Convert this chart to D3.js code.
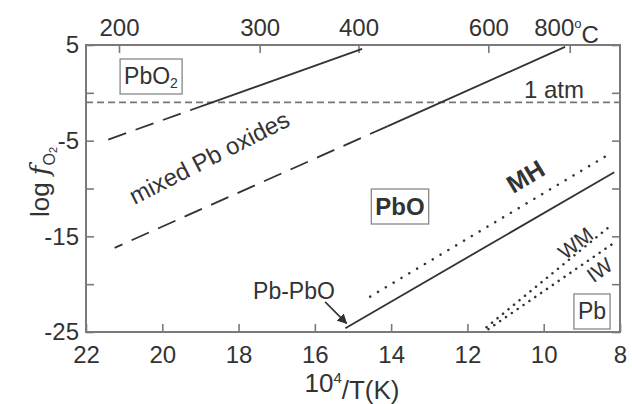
<!DOCTYPE html>
<html>
<head>
<meta charset="utf-8">
<script src="https://cdn.jsdelivr.net/npm/d3@7/dist/d3.min.js"></script>
<style>
  html, body { margin: 0; padding: 0; background: #fff; }
  svg { display: block; font-family: "Liberation Sans", Arial, sans-serif; }
</style>
</head>
<body>
<svg id="chart" width="632" height="404"></svg>
<script>
// Axis ranges and ticks
const xDomain = [22, 8];            // 10^4/T(K)
const yDomain = [-25, 5];           // log fO2
const xTicks = [22, 20, 18, 16, 14, 12, 10, 8];
const yTicks = [5, 0, -5, -10, -15, -20, -25];
const yTickLabels = [5, -5, -15, -25];
const tempTicksC = [200, 300, 400, 600, 800];
const airLevel = [-1.0];            // dashed "1 atm" level

// Phase boundaries: [10^4/T, log fO2]
const pbo2Solid  = [[14.76, 4.6], [18.8, -1.15]];
const pbo2Dashed = [[18.8, -1.15], [21.5, -5.0]];
const pboSolid   = [[9.44, 4.8], [14.1, -3.5]];
const pboDashed  = [[14.1, -3.5], [21.25, -16.2]];
const pbPbO      = [[15.2, -24.6], [8.15, -8.3]];
// Oxygen buffers
const bufferMH = [[14.55, -21.3], [8.3, -6.45]];
const bufferWM = [[11.5, -24.5], [8.25, -13.9]];
const bufferIW = [[11.45, -24.7], [8.2, -15.8]];

const svg = d3.select("#chart");
const plotL = 86, plotR = 620, plotT = 45, plotB = 332;
const x = d3.scaleLinear().domain(xDomain).range([plotL, plotR]);
const y = d3.scaleLinear().domain(yDomain).range([plotB, plotT]);
const axisColor = "#7a7a7a";
const ink = "#333";
const fs = 24;     // tick labels
const lfs = 23;    // labels inside the plot

function styleAxis(g) {
  g.select(".domain").remove();
  g.selectAll(".tick line").attr("stroke", axisColor).attr("stroke-width", 1.6);
  g.selectAll(".tick text").attr("fill", ink).style("font-size", fs + "px")
    .style("font-family", '"Liberation Sans", Arial, sans-serif');
}

// bottom axis
svg.append("g").attr("transform", `translate(0,${plotB})`)
  .call(d3.axisBottom(x).tickValues(xTicks).tickFormat(d3.format("d"))
        .tickSize(-8).tickSizeOuter(0).tickPadding(14))
  .call(styleAxis);

// top axis in degrees C
const tempToX = t => 1e4 / (t + 273.15);
const topAxis = svg.append("g").attr("transform", `translate(0,${plotT})`)
  .call(d3.axisTop(x).tickValues(tempTicksC.map(tempToX))
        .tickFormat((d, i) => tempTicksC[i]).tickSize(-8).tickSizeOuter(0).tickPadding(9))
  .call(styleAxis);
topAxis.selectAll(".tick text").filter((d, i) => i === tempTicksC.length - 1)
  .each(function () {
    const t = d3.select(this);
    t.append("tspan").attr("dy", "-0.6em").style("font-size", "13px").text("o");
    t.append("tspan").attr("dy", "0.6em").text("C");
    t.attr("text-anchor", "start").attr("x", -36);
  });

// left axis
svg.append("g").attr("transform", `translate(${plotL},0)`)
  .call(d3.axisLeft(y).tickValues(yTicks)
        .tickFormat(d => yTickLabels.includes(d) ? d : "")
        .tickSize(-8).tickSizeOuter(0).tickPadding(7))
  .call(styleAxis);

// right axis
svg.append("g").attr("transform", `translate(${plotR},0)`)
  .call(d3.axisRight(y).tickValues(yTicks).tickFormat("")
        .tickSize(-8).tickSizeOuter(0))
  .call(styleAxis);

// frame
svg.append("rect").attr("x", plotL).attr("y", plotT)
  .attr("width", plotR - plotL).attr("height", plotB - plotT)
  .attr("fill", "none").attr("stroke", axisColor).attr("stroke-width", 2);

// 1 atm line
svg.selectAll(".air").data(airLevel).enter().append("line")
  .attr("x1", plotL).attr("x2", plotR)
  .attr("y1", d => y(d)).attr("y2", d => y(d))
  .attr("stroke", "#777").attr("stroke-width", 1.6).attr("stroke-dasharray", "7,4");

const line = d3.line().x(d => x(d[0])).y(d => y(d[1]));
function drawLine(data, dash, width, color, cap) {
  svg.append("path").datum(data).attr("d", line)
    .attr("fill", "none").attr("stroke", color || ink)
    .attr("stroke-width", width || 1.8)
    .attr("stroke-linecap", cap || "butt")
    .attr("stroke-dasharray", dash || null);
}
drawLine(pbo2Solid);
drawLine(pbo2Dashed, "19,10");
drawLine(pboSolid);
drawLine(pboDashed, "19,10");
drawLine(pbPbO);
drawLine(bufferMH, "0.1,9", 2.5, "#333", "round");
drawLine(bufferWM, "0.1,7", 2.5, "#333", "round");
drawLine(bufferIW, "0.1,7", 2.5, "#333", "round");

// arrow to Pb-PbO line end
svg.append("defs").append("marker").attr("id", "ah")
  .attr("viewBox", "0 0 10 10").attr("refX", 9).attr("refY", 5)
  .attr("markerWidth", 10).attr("markerHeight", 10).attr("orient", "auto")
  .attr("markerUnits", "userSpaceOnUse")
  .append("path").attr("d", "M0,0 L10,5 L0,10 Z").attr("fill", ink);
svg.append("line")
  .attr("x1", x(15.73)).attr("y1", y(-21.85))
  .attr("x2", x(15.17)).attr("y2", y(-24.1))
  .attr("stroke", ink).attr("stroke-width", 1.6).attr("marker-end", "url(#ah)");

// labels
function boxed(text, cx, cy, bold, sub, size) {
  const g = svg.append("g");
  const t = g.append("text").attr("x", cx).attr("y", cy).attr("text-anchor", "middle")
    .attr("dy", "0.36em").attr("fill", ink).style("font-size", (size || lfs) + "px")
    .style("font-weight", bold ? "bold" : "normal").text(text);
  if (sub) t.append("tspan").attr("dy", "0.3em").style("font-size", "14px").text(sub);
  const b = t.node().getBBox();
  g.insert("rect", "text").attr("x", b.x - 4).attr("y", cy - 17)
    .attr("width", b.width + 8).attr("height", 35)
    .attr("fill", "#fff").attr("stroke", "#888").attr("stroke-width", 1.3);
}
boxed("PbO", 151, 76, false, "2");
boxed("PbO", 400, 206, true, null, 24);
boxed("Pb", 592, 311, false);

svg.append("text").attr("x", 584).attr("y", 98).attr("text-anchor", "end")
  .attr("fill", ink).style("font-size", "24px").text("1 atm");

svg.append("text").attr("transform", "translate(213,165) rotate(-27)")
  .attr("text-anchor", "middle").attr("fill", ink).style("font-size", "24px")
  .text("mixed Pb oxides");

svg.append("text").attr("transform", "translate(530,184) rotate(-31)")
  .attr("text-anchor", "middle").attr("fill", ink).style("font-size", "25px")
  .style("font-weight", "bold").text("MH");
svg.append("text").attr("transform", "translate(580,249) rotate(-38)")
  .attr("text-anchor", "middle").attr("fill", ink).style("font-size", "21px").text("WM");
svg.append("text").attr("transform", "translate(604,276) rotate(-36)")
  .attr("text-anchor", "middle").attr("fill", ink).style("font-size", "21px").text("IW");

svg.append("text").attr("x", 294).attr("y", 299).attr("text-anchor", "middle")
  .attr("fill", ink).style("font-size", lfs + "px").text("Pb-PbO");

// axis titles
const xt = svg.append("text").attr("x", 352).attr("y", 392).attr("text-anchor", "middle")
  .attr("fill", ink).style("font-size", "26px");
xt.append("tspan").text("10");
xt.append("tspan").attr("dy", "-0.6em").style("font-size", "15px").text("4");
xt.append("tspan").attr("dy", "0.6em").text("/T(K)");

const yt = svg.append("text").attr("transform", "translate(49,182) rotate(-90)")
  .attr("text-anchor", "middle").attr("fill", ink).style("font-size", "26px");
yt.append("tspan").text("log ");
yt.append("tspan").style("font-style", "italic").style("font-family", '"DejaVu Serif", serif').text("f");
yt.append("tspan").attr("dy", "0.35em").style("font-size", "16px").text("O");
yt.append("tspan").attr("dy", "0.2em").style("font-size", "11px").text("2");
</script>
</body>
</html>
